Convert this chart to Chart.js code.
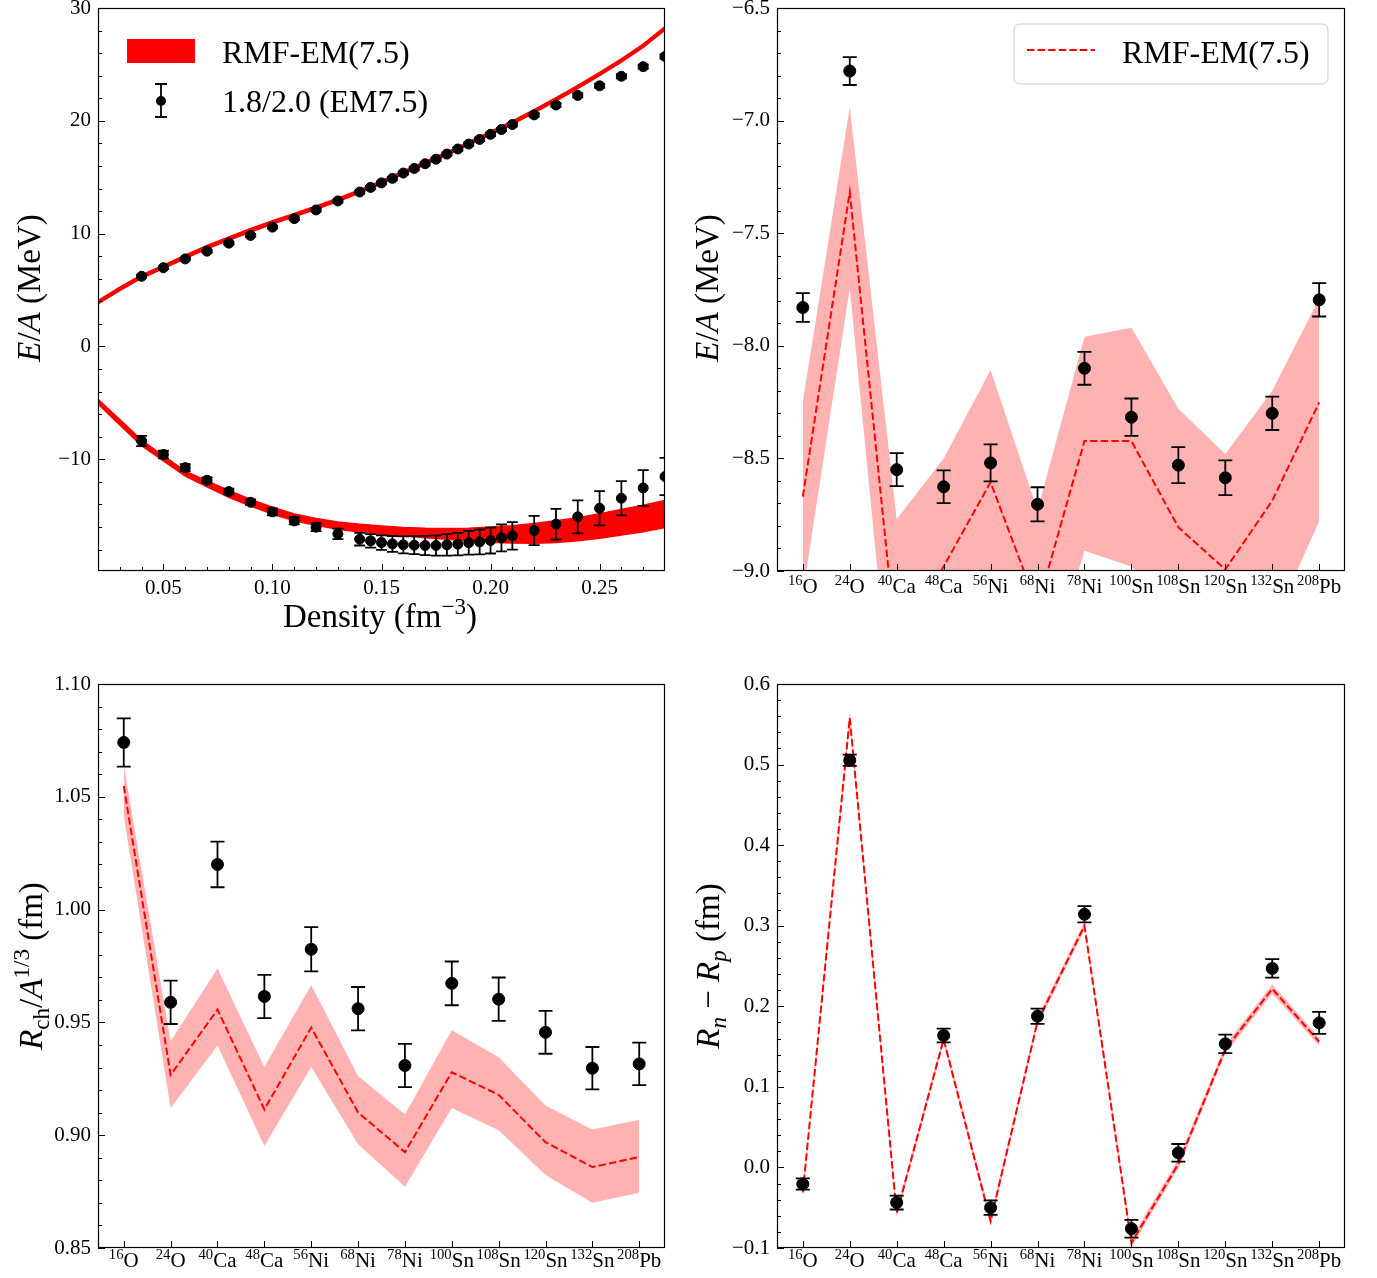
<!DOCTYPE html>
<html>
<head>
<meta charset="utf-8">
<script src="https://cdn.jsdelivr.net/npm/chart.js@4.4.0/dist/chart.umd.min.js"></script>
<style>
  body { margin: 0; background: #fff; overflow: hidden; }
  #wrap { position: relative; width: 1377px; height: 1278px; overflow: hidden; }
  .panel { position: absolute; }
</style>
</head>
<body>
<div id="wrap">
  <div class="panel" style="left:0;top:-20px;width:688px;height:660px"><canvas id="eosChart"></canvas></div>
  <div class="panel" style="left:688px;top:-20px;width:689px;height:660px"><canvas id="bindingChart"></canvas></div>
  <div class="panel" style="left:0;top:620px;width:688px;height:658px"><canvas id="radiusChart"></canvas></div>
  <div class="panel" style="left:688px;top:620px;width:689px;height:658px"><canvas id="skinChart"></canvas></div>
</div>
<script>
// ---- data: nuclear matter (top left) ----
const densPts = [0.04, 0.05, 0.06, 0.07, 0.08, 0.09, 0.10, 0.11, 0.12, 0.13,
  0.14, 0.145, 0.15, 0.155, 0.16, 0.165, 0.17, 0.175, 0.18, 0.185, 0.19, 0.195, 0.20, 0.205, 0.21,
  0.22, 0.23, 0.24, 0.25, 0.26, 0.27, 0.28];
const pnmPts = [6.22, 6.98, 7.76, 8.45, 9.16, 9.84, 10.58, 11.33, 12.1, 12.9,
  13.69, 14.1, 14.5, 14.9, 15.37, 15.78, 16.2, 16.6, 17.05, 17.5, 17.94, 18.35, 18.8, 19.23, 19.67,
  20.53, 21.4, 22.25, 23.1, 23.95, 24.8, 25.7];
const pnmErr = [0.12, 0.12, 0.12, 0.12, 0.12, 0.12, 0.12, 0.12, 0.12, 0.12,
  0.13, 0.13, 0.13, 0.13, 0.13, 0.13, 0.14, 0.14, 0.14, 0.14, 0.14, 0.15, 0.15, 0.15, 0.15,
  0.16, 0.16, 0.17, 0.17, 0.18, 0.18, 0.19];
const snmPts = [-8.38, -9.58, -10.74, -11.86, -12.86, -13.81, -14.66, -15.46, -16.02, -16.61,
  -17.08, -17.23, -17.38, -17.5, -17.58, -17.61, -17.64, -17.64, -17.58, -17.52, -17.4, -17.32, -17.2, -16.96, -16.78,
  -16.31, -15.75, -15.1, -14.34, -13.45, -12.54, -11.53];
const snmErr = [0.45, 0.34, 0.3, 0.25, 0.25, 0.25, 0.3, 0.3, 0.35, 0.46,
  0.56, 0.6, 0.65, 0.7, 0.75, 0.8, 0.85, 0.9, 0.95, 1.0, 1.05, 1.1, 1.15, 1.2, 1.22,
  1.3, 1.36, 1.46, 1.52, 1.52, 1.58, 1.65];

const densCurve = [0.02, 0.03, 0.04, 0.05, 0.06, 0.07, 0.08, 0.09, 0.10, 0.11, 0.12, 0.13, 0.14,
  0.15, 0.16, 0.17, 0.18, 0.19, 0.20, 0.21, 0.22, 0.23, 0.24, 0.25, 0.26, 0.27, 0.28];
const pnmLo = [3.77, 4.95, 6.05, 6.9, 7.79, 8.65, 9.41, 10.15, 10.85, 11.5, 12.15, 12.85, 13.6,
  14.4, 15.25, 16.1, 16.95, 17.85, 18.75, 19.7, 20.7, 21.75, 22.85, 24.0, 25.2, 26.5, 28.05];
const pnmHi = [4.07, 5.25, 6.35, 7.2, 8.09, 8.95, 9.71, 10.45, 11.15, 11.8, 12.45, 13.15, 13.9,
  14.7, 15.55, 16.4, 17.25, 18.15, 19.05, 20.0, 21.0, 22.05, 23.15, 24.3, 25.5, 26.8, 28.35];
const snmHi = [-4.68, -6.48, -8.3, -9.7, -11.05, -11.92, -12.75, -13.55, -14.25, -14.85, -15.25, -15.55, -15.75,
  -15.92, -16.05, -16.12, -16.14, -16.1, -16.0, -15.88, -15.68, -15.45, -15.17, -14.82, -14.45, -14.08, -13.65];
const snmLo = [-5.1, -6.95, -8.8, -10.15, -11.5, -12.45, -13.38, -14.15, -14.85, -15.45, -15.85, -16.2, -16.45,
  -16.6, -16.8, -16.95, -17.08, -17.22, -17.35, -17.42, -17.45, -17.38, -17.23, -17.0, -16.72, -16.42, -16.05];

// ---- data: finite nuclei ----
const massNums = ['16', '24', '40', '48', '56', '68', '78', '100', '108', '120', '132', '208'];
const elements = ['O', 'O', 'Ca', 'Ca', 'Ni', 'Ni', 'Ni', 'Sn', 'Sn', 'Sn', 'Sn', 'Pb'];
const nucPos = [0, 1, 2, 3, 4, 5, 6, 7, 8, 9, 10, 11];

const bindExp = [-7.83, -6.78, -8.55, -8.626, -8.52, -8.704, -8.10, -8.317, -8.53, -8.586, -8.30, -7.796];
const bindErr = [0.064, 0.062, 0.073, 0.073, 0.082, 0.076, 0.073, 0.083, 0.08, 0.077, 0.074, 0.074];
const bindRmf = [-8.67, -7.317, -9.35, -8.98, -8.606, -9.16, -8.423, -8.423, -8.806, -8.993, -8.688, -8.252];
const bindHi = [-8.248, -6.94, -8.77, -8.50, -8.107, -8.73, -7.96, -7.92, -8.28, -8.48, -8.20, -7.79];
const bindLo = [-9.1, -7.744, -9.87, -9.5, -9.2, -9.6, -8.91, -8.98, -9.2, -9.4, -9.24, -8.78];

const rchExp = [1.0741, 0.9589, 1.0200, 0.9615, 0.9824, 0.9561, 0.9309, 0.9673, 0.9603, 0.9456, 0.9297, 0.9316];
const rchErr = [0.0107, 0.0096, 0.0101, 0.0096, 0.0098, 0.0096, 0.0096, 0.0097, 0.0096, 0.0095, 0.0094, 0.0094];
const rchRmf = [1.0548, 0.9267, 0.9557, 0.9114, 0.9477, 0.9101, 0.8925, 0.9279, 0.9179, 0.8969, 0.8859, 0.8903];
const rchHi = [1.0641, 0.9416, 0.9739, 0.9302, 0.9666, 0.9262, 0.9092, 0.9465, 0.9346, 0.9132, 0.9025, 0.9069];
const rchLo = [1.0414, 0.9121, 0.9398, 0.8952, 0.9302, 0.8960, 0.8771, 0.9121, 0.9022, 0.8824, 0.8701, 0.8745];

const skinExp = [-0.0206, 0.5054, -0.0436, 0.1637, -0.05, 0.1877, 0.3142, -0.076, 0.0181, 0.1534, 0.247, 0.1794];
const skinErr = [0.007, 0.007, 0.0086, 0.0086, 0.009, 0.0095, 0.01, 0.011, 0.011, 0.0115, 0.0115, 0.0137];
const skinRmf = [-0.031, 0.558, -0.057, 0.159, -0.0667, 0.181, 0.30, -0.0936, 0.0044, 0.1466, 0.2216, 0.156];
const skinHi = [-0.026, 0.566, -0.052, 0.164, -0.061, 0.186, 0.305, -0.088, 0.010, 0.152, 0.227, 0.161];
const skinLo = [-0.036, 0.550, -0.062, 0.154, -0.072, 0.176, 0.295, -0.099, -0.001, 0.141, 0.216, 0.151];

// ---- styling helpers ----
const FONT = "'Liberation Serif', 'DejaVu Serif', serif";
const RED = 'rgb(255,0,0)';
const PINK = 'rgba(255,0,0,0.3)';
const NONE = 'rgba(0,0,0,0)';

function range(a, b, step) {
  const out = [];
  for (let v = a; v <= b + 1e-9; v += step) out.push(+v.toFixed(4));
  return out;
}
function minorsOf(a, b, step, majors) {
  return range(a, b, step).filter(m => !majors.some(M => Math.abs(M - m) < 1e-6));
}
const fmt = d => v => (v < 0 ? '−' : '') + Math.abs(v).toFixed(d);

function pts(xs, ys) { return xs.map((x, i) => ({ x: x, y: ys[i] })); }
function curve(xs, ys, extra) {
  return Object.assign({ data: pts(xs, ys), pointRadius: 0, borderWidth: 0, borderColor: NONE,
    fill: false, tension: 0, order: 3 }, extra);
}
function markers(xs, ys, r) {
  return { data: pts(xs, ys), showLine: false, pointRadius: r, pointHoverRadius: r,
    pointBackgroundColor: '#000', pointBorderColor: '#000', borderColor: '#000', order: 1 };
}

// draws text made of parts (italic / superscript / subscript), centred on x
function drawRich(ctx, parts, x, y, size, rotate) {
  ctx.save();
  ctx.translate(x, y);
  if (rotate) ctx.rotate(-Math.PI / 2);
  const fontOf = p => (p.it ? 'italic ' : '') + ((p.sup || p.sub) ? size * 0.7 : size) + 'px ' + FONT;
  let total = 0;
  parts.forEach(p => { ctx.font = fontOf(p); total += ctx.measureText(p.t).width; });
  let cx = -total / 2;
  ctx.fillStyle = '#000';
  ctx.textAlign = 'left';
  ctx.textBaseline = 'alphabetic';
  parts.forEach(p => {
    ctx.font = fontOf(p);
    const dy = p.sup ? -size * 0.4 : (p.sub ? size * 0.22 : 0);
    ctx.fillText(p.t, cx, dy);
    cx += ctx.measureText(p.t).width;
  });
  ctx.restore();
}

const decorById = {};

const decor = {
  id: 'decor',
  afterDatasetsDraw(chart) {
    const o = decorById[chart.canvas.id];
    if (!o) return;
    const ctx = chart.ctx, a = chart.chartArea;
    const xs = chart.scales.x, ys = chart.scales.y;
    ctx.save();
    ctx.beginPath();
    ctx.rect(a.left, a.top, a.right - a.left, a.bottom - a.top);
    ctx.clip();
    ctx.strokeStyle = '#000';
    ctx.lineWidth = 1.8;
    o.errors.forEach(e => {
      const ds = chart.data.datasets[e.index];
      ds.data.forEach((p, j) => {
        const px = xs.getPixelForValue(p.x);
        const y1 = ys.getPixelForValue(p.y - e.values[j]);
        const y2 = ys.getPixelForValue(p.y + e.values[j]);
        ctx.beginPath();
        ctx.moveTo(px, y1); ctx.lineTo(px, y2);
        ctx.moveTo(px - e.cap, y1); ctx.lineTo(px + e.cap, y1);
        ctx.moveTo(px - e.cap, y2); ctx.lineTo(px + e.cap, y2);
        ctx.stroke();
      });
    });
    ctx.restore();
  },
  afterDraw(chart) {
    const o = decorById[chart.canvas.id];
    if (!o) return;
    const ctx = chart.ctx, a = chart.chartArea;
    const xs = chart.scales.x, ys = chart.scales.y;
    ctx.save();
    // frame
    ctx.strokeStyle = '#000';
    ctx.lineWidth = 1.2;
    ctx.strokeRect(a.left + 0.5, a.top + 0.5, a.right - a.left - 1, a.bottom - a.top - 1);
    // inward ticks
    ctx.lineWidth = 1;
    const tick = (list, len, horiz) => list.forEach(v => {
      ctx.beginPath();
      if (horiz) {
        const px = Math.round(xs.getPixelForValue(v)) + 0.5;
        ctx.moveTo(px, a.bottom); ctx.lineTo(px, a.bottom - len);
      } else {
        const py = Math.round(ys.getPixelForValue(v)) + 0.5;
        ctx.moveTo(a.left, py); ctx.lineTo(a.left + len, py);
      }
      ctx.stroke();
    });
    tick(o.xMajor, 7, true);
    tick(o.xMinor, 4, true);
    tick(o.yMajor, 7, false);
    tick(o.yMinor, 4, false);
    // nucleus labels with superscript mass numbers
    if (o.nucleusLabels) {
      nucPos.forEach(i => {
        drawRich(ctx, [{ t: massNums[i], sup: true }, { t: elements[i] }],
          xs.getPixelForValue(i), a.bottom + o.nucleusLabels, 21, false);
      });
    }
    // axis titles
    o.titles.forEach(t => drawRich(ctx, t.parts, t.x, t.y, t.size, t.rotate));
    // legends
    ctx.textAlign = 'left';
    ctx.textBaseline = 'alphabetic';
    ctx.font = '32px ' + FONT;
    if (o.legend === 'eos') {
      ctx.fillStyle = RED;
      ctx.fillRect(127, 59, 68, 24);
      ctx.fillStyle = '#000';
      ctx.fillText('RMF-EM(7.5)', 222, 83);
      ctx.strokeStyle = '#000';
      ctx.lineWidth = 1.8;
      ctx.beginPath();
      ctx.moveTo(161, 104); ctx.lineTo(161, 137);
      ctx.moveTo(155, 104); ctx.lineTo(167, 104);
      ctx.moveTo(155, 137); ctx.lineTo(167, 137);
      ctx.stroke();
      ctx.beginPath();
      ctx.arc(161, 121, 5, 0, Math.PI * 2);
      ctx.fill();
      ctx.fillText('1.8/2.0 (EM7.5)', 222, 132);
    } else if (o.legend === 'dashed') {
      const x0 = 326, y0 = 44, w = 314, h = 60, r = 6;
      ctx.beginPath();
      ctx.moveTo(x0 + r, y0);
      ctx.arcTo(x0 + w, y0, x0 + w, y0 + h, r);
      ctx.arcTo(x0 + w, y0 + h, x0, y0 + h, r);
      ctx.arcTo(x0, y0 + h, x0, y0, r);
      ctx.arcTo(x0, y0, x0 + w, y0, r);
      ctx.closePath();
      ctx.fillStyle = 'rgba(255,255,255,0.8)';
      ctx.fill();
      ctx.strokeStyle = '#cccccc';
      ctx.lineWidth = 1;
      ctx.stroke();
      ctx.strokeStyle = RED;
      ctx.lineWidth = 2;
      ctx.setLineDash([7.4, 3.2]);
      ctx.beginPath();
      ctx.moveTo(339, 70); ctx.lineTo(407, 70);
      ctx.stroke();
      ctx.setLineDash([]);
      ctx.fillStyle = '#000';
      ctx.fillText('RMF-EM(7.5)', 434, 83);
    }
    ctx.restore();
  }
};
Chart.register(decor);

function buildPanel(id, o) {
  decorById[id] = o.decor;
  const tickFont = { family: FONT, size: 21 };
  return new Chart(document.getElementById(id), {
    type: 'line',
    data: { datasets: o.datasets },
    options: {
      responsive: true,
      maintainAspectRatio: false,
      animation: false,
      layout: { padding: o.padding },
      plugins: { legend: { display: false }, tooltip: { enabled: false } },
      scales: {
        x: {
          type: 'linear', min: o.xMin, max: o.xMax,
          grid: { display: false, drawTicks: false }, border: { display: false },
          afterBuildTicks: ax => { ax.ticks = o.xTicks.map(v => ({ value: v })); },
          afterFit: ax => { ax.height = o.xHeight; },
          ticks: { autoSkip: false, maxRotation: 0, minRotation: 0, padding: 5, color: '#000',
            font: tickFont, callback: o.xLabel }
        },
        y: {
          type: 'linear', min: o.yMin, max: o.yMax,
          grid: { display: false, drawTicks: false }, border: { display: false },
          afterBuildTicks: ax => { ax.ticks = o.yTicks.map(v => ({ value: v })); },
          afterFit: ax => { ax.width = o.yWidth; },
          ticks: { autoSkip: false, padding: 7, color: '#000', font: tickFont, callback: o.yLabel }
        }
      }
    }
  });
}

const eaTitle = [{ t: 'E', it: true }, { t: '/' }, { t: 'A', it: true }, { t: ' (MeV)' }];
const blankLabel = () => '';
const dashStyle = { borderColor: RED, borderWidth: 2, borderDash: [7.4, 3.2], order: 2 };

// top left: equation of state
const eosY = [-10, 0, 10, 20, 30];
const eosX = [0.05, 0.10, 0.15, 0.20, 0.25];
buildPanel('eosChart', {
  padding: { left: 0, right: 23, top: 28, bottom: 0 },
  xMin: 0.02, xMax: 0.28, yMin: -19.9, yMax: 30,
  xTicks: eosX, yTicks: eosY, xHeight: 69, yWidth: 98,
  xLabel: fmt(2), yLabel: fmt(0),
  datasets: [
    curve(densCurve, pnmLo, { borderColor: RED, borderWidth: 1.5 }),
    curve(densCurve, pnmHi, { borderColor: RED, borderWidth: 1.5, fill: '-1', backgroundColor: RED }),
    curve(densCurve, snmLo, { borderColor: RED, borderWidth: 1.5 }),
    curve(densCurve, snmHi, { borderColor: RED, borderWidth: 1.5, fill: '-1', backgroundColor: RED }),
    markers(densPts, pnmPts, 5),
    markers(densPts, snmPts, 5)
  ],
  decor: {
    errors: [{ index: 4, values: pnmErr, cap: 5.5 }, { index: 5, values: snmErr, cap: 5.5 }],
    xMajor: eosX, xMinor: minorsOf(0.03, 0.27, 0.01, eosX),
    yMajor: eosY, yMinor: minorsOf(-18, 28, 2, eosY),
    titles: [
      { parts: eaTitle, x: 40, y: 308, size: 33, rotate: true },
      { parts: [{ t: 'Density (fm' }, { t: '−3', sup: true }, { t: ')' }], x: 380, y: 647, size: 33 }
    ],
    legend: 'eos'
  }
});

// top right: binding energies
const bindY = [-9.0, -8.5, -8.0, -7.5, -7.0, -6.5];
buildPanel('bindingChart', {
  padding: { left: 0, right: 32, top: 28, bottom: 0 },
  xMin: -0.55, xMax: 11.55, yMin: -9.0, yMax: -6.5,
  xTicks: nucPos, yTicks: bindY, xHeight: 69, yWidth: 89,
  xLabel: blankLabel, yLabel: fmt(1),
  datasets: [
    curve(nucPos, bindLo),
    curve(nucPos, bindHi, { fill: '-1', backgroundColor: PINK }),
    curve(nucPos, bindRmf, dashStyle),
    markers(nucPos, bindExp, 6)
  ],
  decor: {
    errors: [{ index: 3, values: bindErr, cap: 7 }],
    xMajor: nucPos, xMinor: [],
    yMajor: bindY, yMinor: minorsOf(-9.0, -6.5, 0.1, bindY),
    nucleusLabels: 22,
    titles: [{ parts: eaTitle, x: 30, y: 308, size: 33, rotate: true }],
    legend: 'dashed'
  }
});

// bottom left: charge radii
const rchY = [0.85, 0.90, 0.95, 1.00, 1.05, 1.10];
buildPanel('radiusChart', {
  padding: { left: 0, right: 23, top: 64, bottom: 0 },
  xMin: -0.55, xMax: 11.55, yMin: 0.85, yMax: 1.10,
  xTicks: nucPos, yTicks: rchY, xHeight: 30, yWidth: 98,
  xLabel: blankLabel, yLabel: fmt(2),
  datasets: [
    curve(nucPos, rchLo),
    curve(nucPos, rchHi, { fill: '-1', backgroundColor: PINK }),
    curve(nucPos, rchRmf, dashStyle),
    markers(nucPos, rchExp, 6)
  ],
  decor: {
    errors: [{ index: 3, values: rchErr, cap: 7 }],
    xMajor: nucPos, xMinor: [],
    yMajor: rchY, yMinor: minorsOf(0.85, 1.10, 0.01, rchY),
    nucleusLabels: 19,
    titles: [{ parts: [{ t: 'R', it: true }, { t: 'ch', sub: true }, { t: '/' }, { t: 'A', it: true },
      { t: '1/3', sup: true }, { t: ' (fm)' }], x: 42, y: 346, size: 33, rotate: true }],
    legend: null
  }
});

// bottom right: neutron skins
const skinY = [-0.1, 0.0, 0.1, 0.2, 0.3, 0.4, 0.5, 0.6];
buildPanel('skinChart', {
  padding: { left: 0, right: 32, top: 64, bottom: 0 },
  xMin: -0.55, xMax: 11.55, yMin: -0.1, yMax: 0.6,
  xTicks: nucPos, yTicks: skinY, xHeight: 30, yWidth: 89,
  xLabel: blankLabel, yLabel: fmt(1),
  datasets: [
    curve(nucPos, skinLo),
    curve(nucPos, skinHi, { fill: '-1', backgroundColor: PINK }),
    curve(nucPos, skinRmf, dashStyle),
    markers(nucPos, skinExp, 6)
  ],
  decor: {
    errors: [{ index: 3, values: skinErr, cap: 7 }],
    xMajor: nucPos, xMinor: [],
    yMajor: skinY, yMinor: minorsOf(-0.1, 0.6, 0.02, skinY),
    nucleusLabels: 19,
    titles: [{ parts: [{ t: 'R', it: true }, { t: 'n', it: true, sub: true }, { t: ' − ' },
      { t: 'R', it: true }, { t: 'p', it: true, sub: true }, { t: ' (fm)' }], x: 31, y: 346, size: 33, rotate: true }],
    legend: null
  }
});
</script>
</body>
</html>
